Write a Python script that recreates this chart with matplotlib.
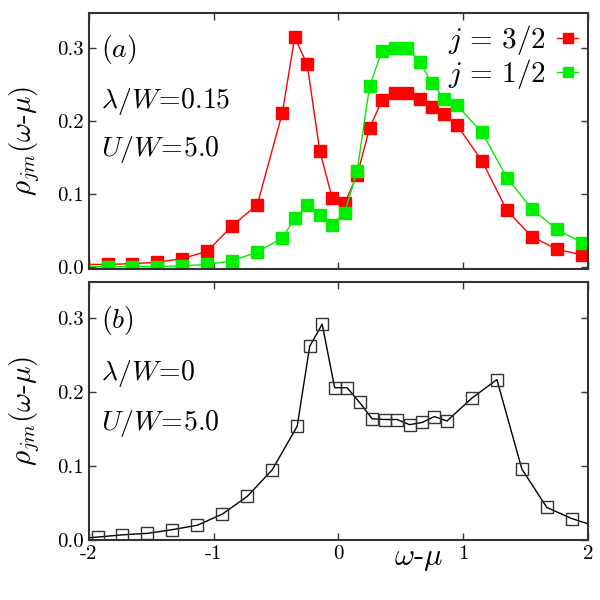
import matplotlib
matplotlib.use('Agg')
import matplotlib.pyplot as plt

plt.rcParams['font.family'] = 'cmr10'
plt.rcParams['mathtext.fontset'] = 'cm'
plt.rcParams['axes.unicode_minus'] = False
plt.rcParams['axes.formatter.use_mathtext'] = False

# panel (a): lambda/W = 0.15
x_a = [-2.05, -1.85, -1.65, -1.45, -1.25, -1.05, -0.85, -0.65, -0.45, -0.35,
       -0.25, -0.15, -0.05, 0.05, 0.15, 0.25, 0.35, 0.45, 0.55, 0.65,
       0.75, 0.85, 0.95, 1.15, 1.35, 1.55, 1.75, 1.95]
rho_32 = [0.003, 0.003, 0.004, 0.006, 0.011, 0.021, 0.056, 0.085, 0.21, 0.314,
          0.277, 0.159, 0.094, 0.087, 0.125, 0.19, 0.228, 0.238, 0.238, 0.229,
          0.218, 0.209, 0.194, 0.145, 0.077, 0.041, 0.024, 0.016]
rho_12 = [0.0, 0.0, 0.0, 0.0, 0.001, 0.003, 0.008, 0.020, 0.039, 0.066,
          0.084, 0.071, 0.057, 0.074, 0.131, 0.247, 0.296, 0.299, 0.300, 0.281,
          0.251, 0.230, 0.221, 0.184, 0.122, 0.079, 0.051, 0.033]

# panel (b): lambda/W = 0
x_b = [-2.07, -1.93, -1.73, -1.53, -1.33, -1.13, -0.93, -0.73, -0.53, -0.33,
       -0.23, -0.13, -0.03, 0.07, 0.17, 0.27, 0.37, 0.47, 0.57, 0.67,
       0.77, 0.87, 1.07, 1.27, 1.47, 1.67, 1.87, 2.07]
rho_0 = [0.002, 0.004, 0.007, 0.009, 0.014, 0.020, 0.035, 0.059, 0.095, 0.154,
         0.262, 0.292, 0.206, 0.206, 0.186, 0.164, 0.163, 0.163, 0.156, 0.159,
         0.167, 0.161, 0.192, 0.217, 0.096, 0.044, 0.029, 0.018]

xticks = [-2, -1, 0, 1, 2]
yticks = [0.0, 0.1, 0.2, 0.3]

fig = plt.figure(figsize=(6, 6), dpi=100)
ax1 = fig.add_axes([0.148, 0.552, 0.832, 0.427])
ax2 = fig.add_axes([0.148, 0.100, 0.832, 0.430])

ax1.plot(x_a, rho_32, color='#ff0000', lw=1, marker='s', ms=8.5,
         mec='#ff0000', label=r'$j\,=\,3/2$')
ax1.plot(x_a, rho_12, color='#00ee00', lw=1, marker='s', ms=8.5,
         mec='#00ee00', label=r'$j\,=\,1/2$')
ax2.plot(x_b, rho_0, color='black', lw=1, marker='s', ms=8.5,
         mfc='none', mec='#333333', mew=1)

for ax in (ax1, ax2):
    ax.set_xlim(-2, 2)
    ax.set_xticks(xticks)
    ax.set_yticks(yticks)
    ax.tick_params(direction='in', top=True, right=True, length=5,
                   width=1, labelsize=15, color='#333333')
    for s in ax.spines.values():
        s.set_linewidth(1.5)
        s.set_color('#333333')
    ax.set_ylabel(r'$\rho_{jm}(\omega$-$\mu)$', fontsize=21)
    ax.yaxis.set_label_coords(-0.094, 0.5)

ax1.set_ylim(-0.003, 0.348)
ax2.set_ylim(0, 0.349)
ax1.set_xticklabels([])
ax2.set_xticklabels([str(t) for t in xticks])
ax1.set_yticklabels(['%.1f' % t for t in yticks])
ax2.set_yticklabels(['%.1f' % t for t in yticks])

ax2.set_xlabel(r'$\omega$-$\mu$', fontsize=22)
ax2.xaxis.set_label_coords(0.66, -0.02)

fs = 20
ax1.text(0.025, 0.826, r'$(a)$', transform=ax1.transAxes, fontsize=fs)
ax1.text(0.025, 0.628, r'$\lambda/W\!=\!0.15$', transform=ax1.transAxes, fontsize=fs)
ax1.text(0.025, 0.44, r'$U/W\!=\!5.0$', transform=ax1.transAxes, fontsize=fs)
ax2.text(0.025, 0.822, r'$(b)$', transform=ax2.transAxes, fontsize=fs)
ax2.text(0.025, 0.622, r'$\lambda/W\!=\!0$', transform=ax2.transAxes, fontsize=fs)
ax2.text(0.025, 0.428, r'$U/W\!=\!5.0$', transform=ax2.transAxes, fontsize=fs)

ax1.legend(loc='upper right', frameon=False, markerfirst=False, fontsize=21,
           handlelength=0.7, handletextpad=0.4, labelspacing=0.0,
           borderaxespad=0.1, borderpad=0.25, markerscale=0.85)

fig.savefig('out.png', dpi=100)
